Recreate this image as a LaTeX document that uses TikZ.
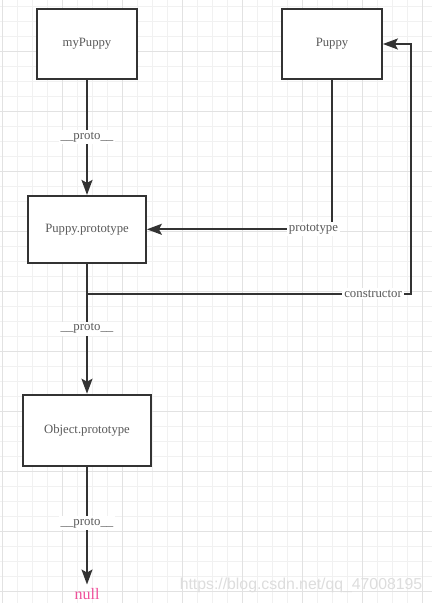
\documentclass[tikz,border=0pt]{standalone}
\usepackage{fontspec}
\setmainfont{Liberation Serif}
\newfontfamily\wmfont{Liberation Sans}
\usetikzlibrary{arrows.meta,positioning}
\definecolor{paper}{HTML}{FFFFFF}
\definecolor{ink}{HTML}{333333}
\definecolor{inkdim}{HTML}{595959}
\definecolor{gridmin}{HTML}{F1F1F1}
\definecolor{gridmaj}{HTML}{E2E2E2}
\definecolor{nullpink}{HTML}{F0509B}
\definecolor{wmark}{HTML}{DDDDDD}

\begin{document}
\begin{tikzpicture}[x=1pt,y=-1pt]
  \tikzstyle{obj}=[rectangle,draw=ink,line width=1.8pt,fill=paper,text=inkdim,font=\fontsize{12.7}{15}\selectfont,minimum width=100pt,minimum height=70pt]
  \tikzstyle{lbl}=[fill=paper,text=inkdim,font=\fontsize{12.8}{15}\selectfont,inner sep=2pt]
  \tikzstyle{arr}=[draw=ink,line width=1.8pt,-{Stealth[length=15pt,width=11pt,inset=3pt]}]
  \useasboundingbox (0,0) rectangle (432,603);
  \fill[paper] (0,0) rectangle (432,603);
  % grid
  \foreach \x in {0,...,28} \draw[gridmin,line width=1pt] (2.7+15*\x,0) -- (2.7+15*\x,603);
  \foreach \y in {-1,...,39} \draw[gridmin,line width=1pt] (0,6.5+15*\y) -- (432,6.5+15*\y);
  \foreach \x in {0,...,7} \draw[gridmaj,line width=1pt] (2.7+60*\x,0) -- (2.7+60*\x,603);
  \foreach \y in {-1,...,9} \draw[gridmaj,line width=1pt] (0,51.5+60*\y) -- (432,51.5+60*\y);
  % objects
  \node[obj] (mypuppy) at (87,44) {myPuppy};
  \node[obj] (puppy) at (332,44) {Puppy};
  \node[obj,minimum width=118pt,minimum height=67pt,below=115pt of mypuppy] (pproto) {Puppy.prototype};
  \node[obj,minimum width=128pt,minimum height=71pt,below=130pt of pproto] (oproto) {Object.prototype};
  \node[text=nullpink,font=\fontsize{16}{18}\selectfont,inner xsep=1pt,inner ysep=1.5pt,below=120pt of oproto] (nullnode) {null};
  \coordinate[below=30pt of pproto.south] (split);
  \coordinate[right=324pt of split] (bend);
  % links
  \draw[arr] (mypuppy) -- node[lbl]{\_\_proto\_\_} (pproto);
  \draw[arr] (puppy.south) |- node[lbl,pos=.55]{prototype} (pproto.east);
  \draw[arr] (split) -- node[lbl,pos=.883]{constructor} (bend) |- (puppy.east);
  \draw[arr] (pproto) -- node[lbl]{\_\_proto\_\_} (oproto);
  \draw[arr,shorten >=2pt] (oproto) -- node[lbl,pos=.47]{\_\_proto\_\_} (nullnode);
  % watermark
  \node[text=wmark,font=\wmfont\fontsize{15.8}{18}\selectfont,inner sep=0pt] (wmk) at (301,585) {https://blog.csdn.net/qq\_47008195};
\end{tikzpicture}
\end{document}
